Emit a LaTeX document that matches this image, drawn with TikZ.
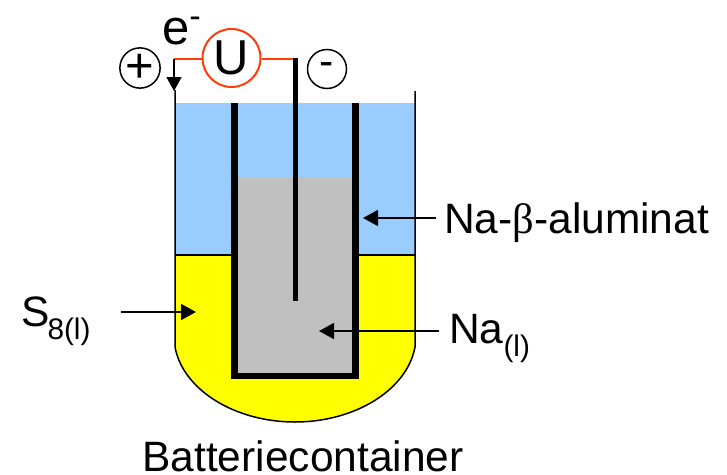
\documentclass[tikz,border=0pt]{standalone}
\usepackage{fontspec}
\setmainfont{Liberation Sans}
\newfontfamily\greekfont{Liberation Serif}
\usepackage{tikz}
\usetikzlibrary{arrows.meta}
\definecolor{liquidblue}{RGB}{153,204,255}
\definecolor{sulfuryellow}{RGB}{255,255,0}
\definecolor{sodiumgray}{RGB}{192,192,192}
\definecolor{wirered}{RGB}{255,60,10}
\tikzset{
  label text/.style={inner sep=0pt, font=\fontsize{42.5}{42.5}\selectfont},
  big text/.style={inner sep=0pt, font=\fontsize{49}{49}\selectfont},
  pointer/.style={-{Stealth[length=15pt,width=16pt,inset=0pt]}, line width=1.5pt},
  pole/.style={draw, circle, line width=1.5pt, minimum size=39pt, big text}
}
\begin{document}
\begin{tikzpicture}[x=1pt, y=-1pt]
          \useasboundingbox (0,0) rectangle (727,474);
          % fills
          \fill[liquidblue] (175,103) rectangle (415,255);
          \fill[sulfuryellow] (175,255) -- (415,255) -- (415,347)
          .. controls (407,390) and (355,422) .. (295,422)
          .. controls (235,422) and (183,390) .. (175,347) -- cycle;
          % container
          \draw[line width=1.5pt] (175,90) -- (175,347)
          .. controls (183,390) and (235,422) .. (295,422)
          .. controls (355,422) and (407,390) .. (415,347) -- (415,91);
          \draw[line width=1.5pt] (175,255) -- (415,255);
          \fill[sodiumgray] (238,178) rectangle (352,375);
          \draw[line width=6.5pt, miter limit=10] (234.5,103) -- (234.5,376) -- (355.5,376) -- (355.5,103);
          % voltmeter
          \node[draw=wirered, circle, line width=2pt, minimum size=58pt, big text] (U) at (231.5,58) {U};
          \node[pole] (plus) at (140,68) {+};
          \node[pole, label text, minimum size=39pt] (minus) at (327,69) {-};
          \coordinate (wireL) at (174,58.5);
          \coordinate (wireR) at (297,58.5);
          \coordinate (cathodeEnd) at (174,91);
          \coordinate (anodeTop) at (295.5,58);
          \coordinate (anodeEnd) at (295.5,300.5);
          \draw[wirered, line width=2pt] (U.west |- wireL) -- (wireL);
          \draw[wirered, line width=2pt] (U.east |- wireR) -- (wireR);
          \draw[line width=1.5pt, -{Stealth[length=14pt,width=15pt,inset=0pt]}] (wireL) -- (cathodeEnd);
          \draw[line width=5pt] (anodeTop) -- (anodeEnd);
          % labels
          \node[big text, anchor=base west] (electron) at (162,44) {e\raisebox{7pt}{\textsuperscript{-}}};
          \node[label text, anchor=west] (aluminat) at (444,223) {Na-{\greekfont β}-aluminat};
          \node[label text, anchor=west] (sodium) at (449,338) {Na\textsubscript{(l)}};
          \node[label text, anchor=base west] (sulfur) at (21,326.5) {S\kern-2pt\textsubscript{8(l)}};
          \node[label text, anchor=base] (container) at (303,471) {Batteriecontainer};
          \coordinate (aluminatStart) at (436,218);
          \coordinate (aluminatTip) at (363,218);
          \coordinate (sodiumStart) at (439,331);
          \coordinate (sodiumTip) at (319,331);
          \coordinate (sulfurStart) at (121,312);
          \coordinate (sulfurTip) at (196,312);
          \draw[pointer] (aluminatStart) -- (aluminatTip);
          \draw[pointer] (sodiumStart) -- (sodiumTip);
          \draw[pointer] (sulfurStart) -- (sulfurTip);
        \end{tikzpicture}
\end{document}
